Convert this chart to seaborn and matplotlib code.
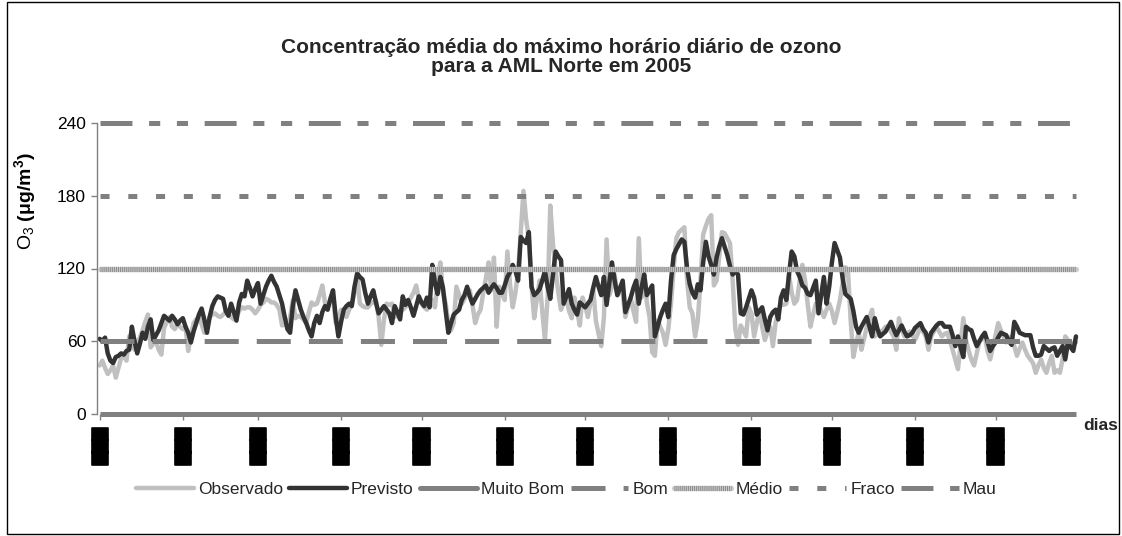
import numpy as np
import pandas as pd
import matplotlib
matplotlib.use('Agg')
import matplotlib.pyplot as plt
import matplotlib.patheffects as pe
from matplotlib.patches import Rectangle
from matplotlib.legend_handler import HandlerTuple
from matplotlib.lines import Line2D
import seaborn as sns

# Dados (valores diários, µg/m3)
prev_jan = [62, 60, 63, 50, 44, 42, 47, 48, 50, 49, 52, 53, 72, 60, 50, 58, 67, 62, 72, 78, 61, 65, 69, 75, 81, 79, 77, 81, 78, 74, 77]
prev_fev = [79, 72, 67, 59, 68, 75, 82, 87, 78, 67, 80, 89, 94, 97, 96, 95, 85, 81, 91, 84, 77, 92, 99, 97, 110, 104, 97, 103]
prev_mar = [108, 91, 98, 105, 110, 114, 109, 105, 98, 91, 80, 70, 67, 89, 102, 94, 86, 80, 75, 69, 64, 75, 81, 75, 84, 89, 86, 95, 102, 80, 64]
prev_abr = [76, 86, 89, 91, 89, 105, 116, 113, 111, 100, 91, 97, 102, 92, 83, 86, 89, 86, 83, 75, 89, 84, 78, 97, 90, 94, 88, 81, 89, 97]
prev_mai = [92, 89, 96, 88, 123, 108, 99, 113, 104, 85, 67, 75, 82, 84, 86, 94, 98, 105, 97, 91, 95, 99, 102, 104, 106, 100, 104, 107, 104, 100, 100]
prev_jun = [106, 113, 117, 123, 118, 110, 146, 143, 141, 150, 105, 98, 100, 103, 110, 118, 105, 95, 115, 134, 130, 127, 91, 97, 103, 91, 86, 82, 92, 90]
prev_jul = [88, 91, 94, 104, 113, 105, 98, 113, 90, 108, 125, 110, 98, 104, 110, 84, 90, 96, 104, 110, 91, 104, 115, 98, 102, 106, 64, 72, 80, 86, 91]
prev_ago = [80, 110, 131, 136, 140, 144, 142, 120, 107, 100, 96, 107, 102, 125, 142, 130, 123, 115, 129, 138, 145, 138, 131, 122, 115, 118, 115, 83, 82, 88, 95]
prev_set = [102, 96, 82, 85, 88, 78, 69, 80, 84, 86, 78, 96, 102, 94, 115, 134, 130, 118, 113, 106, 104, 99, 98, 104, 110, 83, 98, 113, 91, 105]
prev_out = [125, 141, 135, 129, 112, 99, 97, 95, 85, 72, 67, 72, 76, 80, 72, 64, 79, 70, 64, 66, 68, 72, 76, 70, 65, 69, 73, 68, 64, 65, 67]
prev_nov = [71, 73, 75, 70, 67, 59, 67, 70, 73, 75, 75, 72, 72, 72, 65, 56, 64, 55, 47, 72, 70, 69, 62, 56, 60, 64, 67, 60, 52, 56]
prev_dez = [59, 63, 67, 66, 65, 60, 57, 76, 72, 67, 66, 65, 65, 65, 55, 48, 48, 49, 56, 54, 52, 54, 55, 48, 52, 56, 45, 59, 55, 52, 64]

obs_jan = [40, 44, 38, 33, 36, 40, 30, 38, 46, 48, 44, 64, 58, 53, 59, 63, 69, 76, 82, 55, 58, 60, 53, 49, 71, 76, 80, 72, 70, 74, 72]
obs_fev = [70, 72, 52, 64, 75, 78, 80, 74, 67, 72, 80, 82, 83, 81, 80, 82, 84, 82, 80, 78, 80, 85, 88, 87, 88, 88, 86, 83]
obs_mar = [86, 90, 92, 95, 94, 92, 92, 90, 86, 73, 74, 72, 80, 94, 79, 81, 80, 78, 75, 84, 92, 90, 91, 98, 106, 92, 88, 94, 96, 75, 80]
obs_abr = [86, 84, 80, 86, 91, 100, 115, 91, 89, 88, 88, 91, 92, 94, 80, 57, 78, 91, 90, 91, 80, 82, 84, 86, 88, 92, 96, 100, 106, 95]
obs_mai = [91, 88, 86, 92, 94, 88, 110, 125, 100, 91, 75, 69, 75, 105, 98, 91, 95, 100, 102, 90, 75, 82, 86, 100, 112, 125, 102, 129, 72, 105, 99]
obs_jun = [94, 134, 107, 88, 100, 118, 150, 184, 160, 145, 106, 79, 95, 110, 85, 61, 96, 172, 140, 118, 100, 86, 92, 96, 85, 79, 96, 85, 73, 96]
obs_jul = [90, 80, 92, 103, 77, 66, 56, 80, 144, 98, 105, 115, 98, 102, 99, 80, 88, 96, 85, 76, 145, 96, 118, 92, 80, 51, 48, 77, 72, 67, 57]
obs_ago = [70, 91, 120, 145, 150, 152, 154, 110, 88, 83, 64, 77, 110, 148, 155, 161, 164, 106, 110, 130, 150, 149, 145, 141, 110, 70, 57, 73, 69, 64, 88]
obs_set = [83, 64, 75, 86, 72, 61, 68, 72, 56, 75, 85, 91, 90, 91, 115, 100, 91, 94, 110, 123, 110, 90, 72, 82, 91, 91, 85, 80, 86, 91]
obs_out = [85, 75, 84, 94, 108, 121, 118, 77, 47, 58, 67, 53, 62, 72, 80, 86, 64, 66, 68, 69, 72, 72, 68, 64, 53, 79, 70, 64, 66, 68, 65]
obs_nov = [61, 66, 72, 68, 64, 53, 64, 68, 72, 68, 64, 66, 67, 60, 53, 45, 37, 58, 79, 61, 52, 45, 40, 50, 60, 62, 64, 52, 45, 55]
obs_dez = [65, 75, 69, 64, 59, 62, 64, 56, 48, 54, 59, 53, 48, 45, 42, 34, 40, 45, 38, 34, 42, 48, 34, 36, 34, 45, 64, 61, 59, 57, 59]

# Limiares do índice de qualidade do ar
limiares = [0, 60, 120, 180, 240]
nomes_limiares = ['Muito Bom', 'Bom', 'Médio', 'Fraco', 'Mau']

inicio_meses = [0, 31, 59, 90, 120, 151, 181, 212, 243, 273, 304, 334]
rotulos_meses = ['███'] * 12
yticks = [0, 60, 120, 180, 240]

previsto = sum([prev_jan, prev_fev, prev_mar, prev_abr, prev_mai, prev_jun,
                prev_jul, prev_ago, prev_set, prev_out, prev_nov, prev_dez], [])
observado = sum([obs_jan, obs_fev, obs_mar, obs_abr, obs_mai, obs_jun,
                 obs_jul, obs_ago, obs_set, obs_out, obs_nov, obs_dez], [])
dias = np.arange(len(observado))

df = pd.DataFrame({
    'dia': np.concatenate([dias, dias]),
    'valor': observado + previsto,
    'serie': ['Observado'] * len(observado) + ['Previsto'] * len(previsto),
})

sns.set_style('white')
plt.rcParams['font.family'] = ['Liberation Sans', 'DejaVu Sans']
plt.rcParams['lines.scale_dashes'] = False
plt.rcParams['mathtext.fontset'] = 'custom'
plt.rcParams['mathtext.rm'] = 'Liberation Sans'
plt.rcParams['mathtext.bf'] = 'Liberation Sans:bold'

fig = plt.figure(figsize=(11.22, 5.36), dpi=100)
ax = fig.add_axes([97 / 1122, 122 / 536, (1080 - 97) / 1122, 291 / 536])

cores = {'Observado': '#c0c0c0', 'Previsto': '#333333'}
sns.lineplot(data=df, x='dia', y='valor', hue='serie', palette=cores,
             linewidth=3.2, ax=ax, legend=False, solid_joinstyle='round')

cinza = '#808080'
# traço longo, espaço, traço curto... (em pontos)
estilos = {
    'Muito Bom': '-',
    'Bom': (0, [24.5, 13]),
    'Fraco': (0, [6.5, 13.5]),
    'Mau': (0, [23, 12, 8, 12, 8, 12]),
}
x_lim = [dias[0], dias[-1]]
for nome, v in zip(nomes_limiares, limiares):
    if nome == 'Médio':
        # linha com textura
        ax.plot(x_lim, [v, v], color='#cccccc', lw=3.8, zorder=5, clip_on=False)
        ax.plot(x_lim, [v, v], color='#8a8a8a', lw=3.8, ls=(0, (0.7, 0.7)), zorder=5, clip_on=False)
    else:
        linha, = ax.plot(x_lim, [v, v], color=cinza, lw=3.6, zorder=5, solid_capstyle='butt', clip_on=False)
        if nome != 'Muito Bom':
            linha.set_dashes(estilos[nome][1])

ax.set_xlim(-1, 365.5)
ax.set_ylim(0, 240)
ax.set_yticks(yticks)
ax.set_xticks(inicio_meses)
ax.set_xticklabels(rotulos_meses, rotation=90, fontfamily='DejaVu Sans', fontsize=11.5, color='black')
for t in ax.get_xticklabels():
    t.set_path_effects([pe.withStroke(linewidth=1.2, foreground='black')])
ax.tick_params(axis='y', labelsize=12.5, labelcolor='black', length=4, width=1, color=cinza, direction='out', left=True, pad=4)
ax.tick_params(axis='x', length=4, width=1, color=cinza, direction='out', bottom=True, pad=6)
for s in ['top', 'right', 'bottom']:
    ax.spines[s].set_visible(False)
ax.spines['left'].set_color(cinza)
ax.spines['left'].set_linewidth(1)
ax.set_xlabel('')
ax.set_ylabel('O$_3$ ' + r'$\mathbf{(\mu g/m^3)}$', fontsize=14, color='black')
ax.yaxis.set_label_coords(-0.06, 0.73)

ax.text(1.003, -0.04, 'dias', transform=ax.transAxes, fontsize=12.5, fontweight='bold', ha='left', va='center')

fig.suptitle('Concentração média do máximo horário diário de ozono\npara a AML Norte em 2005',
             fontsize=15, fontweight='bold', y=0.93, linespacing=1.05)

# Legenda
pl = dict(lw=3.6, color=cinza)
handles = [
    Line2D([], [], color=cores['Observado'], lw=3.2),
    Line2D([], [], color=cores['Previsto'], lw=3.2),
    Line2D([], [], **pl),
    Line2D([], [], dashes=estilos['Bom'][1], **pl),
    (Line2D([], [], color='#cccccc', lw=3.8), Line2D([], [], color='#8a8a8a', lw=3.8, ls=(0, (0.7, 0.7)))),
    Line2D([], [], dashes=estilos['Fraco'][1], **pl),
    Line2D([], [], dashes=estilos['Mau'][1], **pl),
]
fig.legend(handles, ['Observado', 'Previsto'] + nomes_limiares, loc='center', bbox_to_anchor=(0.505, 0.086),
           ncol=7, frameon=False, fontsize=12.5, handlelength=3.3, handletextpad=0.25, columnspacing=0.35,
           handler_map={tuple: HandlerTuple(ndivide=1)})

fig.patches.append(Rectangle((7 / 1122, 2 / 536), 1112 / 1122, 532 / 536, transform=fig.transFigure,
                             fill=False, edgecolor='black', lw=1))

plt.savefig('out.png', dpi=100)
